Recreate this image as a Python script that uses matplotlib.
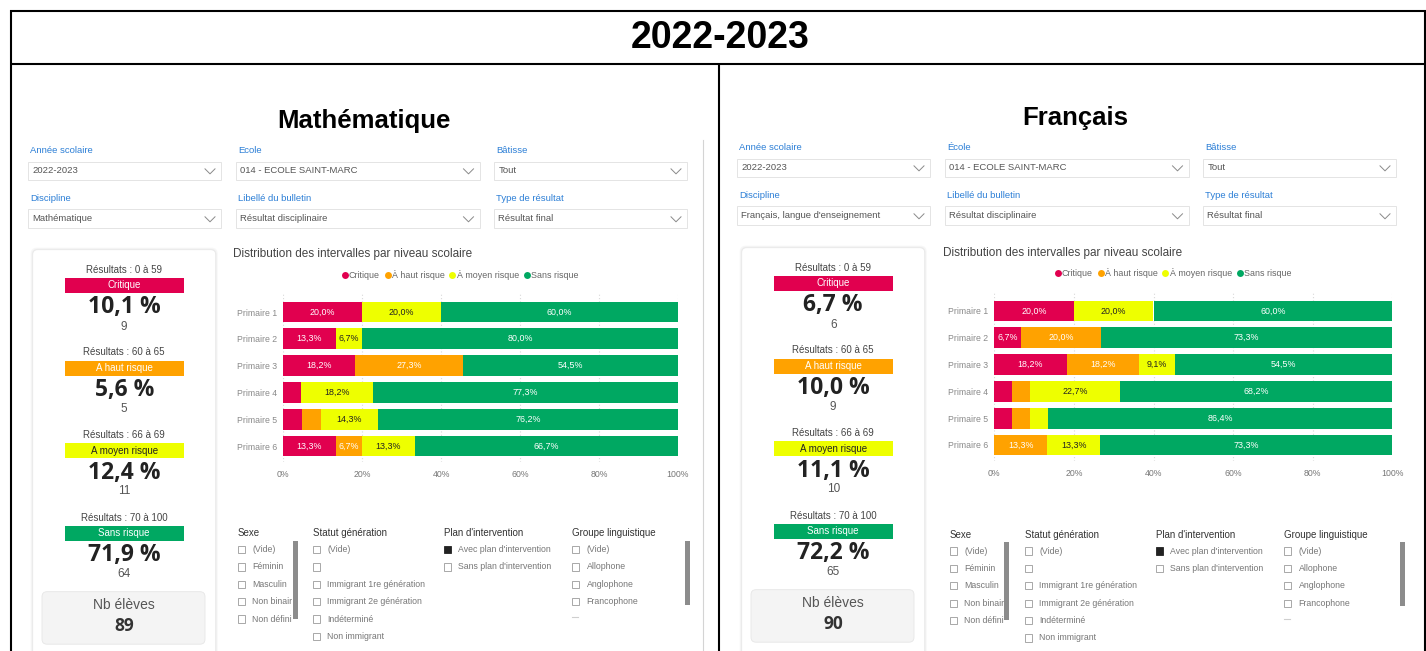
import matplotlib
matplotlib.use("Agg")
import matplotlib.pyplot as plt
from matplotlib.patches import Rectangle, FancyBboxPatch
from matplotlib.lines import Line2D

W, H, DPI = 1426, 651, 100

# ---------------- data ----------------
year_title = "2022-2023"
subjects = ["Mathématique", "Français"]
levels = ["Primaire 1", "Primaire 2", "Primaire 3", "Primaire 4", "Primaire 5", "Primaire 6"]
categories = ["Critique", "À haut risque", "À moyen risque", "Sans risque"]
card_labels = ["Critique", "A haut risque", "A moyen risque", "Sans risque"]
result_ranges = ["0 à 59", "60 à 65", "66 à 69", "70 à 100"]
x_ticks = [0, 20, 40, 60, 80, 100]
colors = ["#E1004F", "#FFA200", "#EEFF00", "#00A862"]
label_colors = ["white", "white", "#222222", "white"]

math_critique = [20.0, 13.3, 18.2, 4.5, 4.8, 13.3]
math_haut = [0.0, 0.0, 27.3, 0.0, 4.8, 6.7]
math_moyen = [20.0, 6.7, 0.0, 18.2, 14.3, 13.3]
math_sans = [60.0, 80.0, 54.5, 77.3, 76.2, 66.7]

fr_critique = [20.0, 6.7, 18.2, 4.5, 4.5, 0.0]
fr_haut = [0.0, 20.0, 18.2, 4.5, 4.5, 13.3]
fr_moyen = [20.0, 0.0, 9.1, 22.7, 4.5, 13.3]
fr_sans = [60.0, 73.3, 54.5, 68.2, 86.4, 73.3]

math_summary_pct = [10.1, 5.6, 12.4, 71.9]
math_summary_n = [9, 5, 11, 64]
math_total = 89
fr_summary_pct = [6.7, 10.0, 11.1, 72.2]
fr_summary_n = [6, 9, 10, 65]
fr_total = 90

math_filter_labels = [["Année scolaire", "Ecole", "Bâtisse"],
                      ["Discipline", "Libellé du bulletin", "Type de résultat"]]
fr_filter_labels = [["Année scolaire", "École", "Bâtisse"],
                    ["Discipline", "Libellé du bulletin", "Type de résultat"]]
math_filter_values = [["2022-2023", "014 - ECOLE SAINT-MARC", "Tout"],
                      ["Mathématique", "Résultat disciplinaire", "Résultat final"]]
fr_filter_values = [["2022-2023", "014 - ECOLE SAINT-MARC", "Tout"],
                    ["Français, langue d'enseignement", "Résultat disciplinaire", "Résultat final"]]

chart_title = "Distribution des intervalles par niveau scolaire"
slicer_titles = ["Sexe", "Statut génération", "Plan d'intervention", "Groupe linguistique"]
sexe_items = ["(Vide)", "Féminin", "Masculin", "Non binair", "Non défini"]
statut_items = ["(Vide)", "", "Immigrant 1re génération", "Immigrant 2e génération",
                "Indéterminé", "Non immigrant"]
plan_items = ["Avec plan d'intervention", "Sans plan d'intervention"]
plan_selected = [True, False]
groupe_items = ["(Vide)", "Allophone", "Anglophone", "Francophone"]

# ---------------- figure ----------------
plt.rcParams['font.family'] = ['Liberation Sans', 'DejaVu Sans']
fig = plt.figure(figsize=(W / DPI, H / DPI), dpi=DPI)
fig.patch.set_facecolor("white")
bg = fig.add_axes([0, 0, 1, 1])
bg.set_xlim(0, W)
bg.set_ylim(H, 0)
bg.axis("off")

BIG = ['Open Sans', 'DejaVu Sans']


def fmt(v):
    return f"{v:.1f}".replace(".", ",")


# outer table frame
frame_kw = dict(color="black", lw=1.5, solid_capstyle="butt")
bg.plot([10, 1426], [10.5, 10.5], **frame_kw)
bg.plot([10.5, 10.5], [10, 651], **frame_kw)
bg.plot([1424.5, 1424.5], [10, 651], **frame_kw)
bg.plot([10, 1426], [64, 64], **frame_kw)
bg.plot([719, 719], [64, 651], **frame_kw)
bg.text(720, 38, year_title, ha="center", va="center", fontsize=27, fontweight="bold", color="black")
bg.text(364, 121, subjects[0], ha="center", va="center", fontsize=18.5, fontweight="bold", color="black")
bg.text(1075, 118, subjects[1], ha="center", va="center", fontsize=18.5, fontweight="bold", color="black")
# thin edge of the left screenshot
bg.plot([702.5, 702.5], [140, 651], color="#d4d4d4", lw=0.8)


def draw_filters(ox, oy, labels, values):
    label_y = [150.7, 198.3]
    box_y = [(161.7, 180.0), (209.3, 228.3)]
    cols = [(28, 221), (236, 479.5), (494.4, 687)]
    for r in range(2):
        for c, (x0, x1) in enumerate(cols):
            x0o, x1o = x0 + ox, x1 + ox
            bg.text(x0o + 2, label_y[r] + oy, labels[r][c], ha="left", va="center",
                    fontsize=6.8, color="#2C7FD6")
            y0, y1 = box_y[r][0] + oy, box_y[r][1] + oy
            bg.add_patch(Rectangle((x0o, y0), x1o - x0o, y1 - y0, fc="white",
                                   ec="#e4e4e4", lw=0.7))
            yc = (y0 + y1) / 2
            bg.text(x0o + 4, yc, values[r][c], ha="left", va="center",
                    fontsize=6.8, color="#555555")
            bg.plot([x1o - 16, x1o - 11, x1o - 6], [yc - 2, yc + 3, yc - 2],
                    color="#8a8a8a", lw=0.7)


def draw_card(ox, oy, pcts, counts, total):
    x0, x1, y0, y1 = 32.7 + ox, 215.7 + ox, 249.7 + oy, 660
    for k, col in enumerate(["#f7f7f7", "#f0f0f0"]):
        bg.add_patch(FancyBboxPatch((x0 - 2 + k, y0 - 2 + k), x1 - x0 + 4 - 2 * k,
                                    y1 - y0, boxstyle="round,pad=0,rounding_size=6",
                                    fc=col, ec="none"))
    bg.add_patch(FancyBboxPatch((x0, y0), x1 - x0, y1 - y0,
                                boxstyle="round,pad=0,rounding_size=5",
                                fc="white", ec="#e8e8e8", lw=0.6))
    cx = (x0 + x1) / 2
    tops = [270.0, 352.3, 435.0, 517.7]
    for i in range(4):
        t = tops[i] + oy
        bg.text(cx, t, "Résultats : " + result_ranges[i], ha="center", va="center",
                fontsize=7, color="#444444")
        bg.add_patch(Rectangle((65 + ox, t + 8.3), 119, 15, fc=colors[i], ec="none"))
        bg.text(cx, t + 15.5, card_labels[i], ha="center", va="center", fontsize=7,
                color=label_colors[i])
        bg.text(cx, t + 37.5, fmt(pcts[i]) + " %", ha="center", va="center",
                fontsize=16.5, fontweight="bold", family=BIG, color="#222222")
        bg.text(cx, t + 56.5, str(counts[i]), ha="center", va="center",
                fontsize=8.5, color="#555555")
    bg.add_patch(FancyBboxPatch((42 + ox, 591.7 + oy), 163, 52.5,
                                boxstyle="round,pad=0,rounding_size=5",
                                fc="#f4f4f4", ec="#e6e6e6", lw=0.6))
    bg.text(cx, 605 + oy, "Nb élèves", ha="center", va="center", fontsize=10,
            color="#555555")
    bg.text(cx, 626 + oy, str(total), ha="center", va="center", fontsize=12.5,
            fontweight="bold", family=BIG, color="#333333")


def draw_chart(rect, row0, spacing, series, title_xy, legend_xy):
    x0, x1, top, bottom = rect
    ax = fig.add_axes([x0 / W, 1 - bottom / H, (x1 - x0) / W, (bottom - top) / H])
    ax.set_facecolor("none")
    ypos = list(range(len(levels)))
    left = [0.0] * len(levels)
    for i, vals in enumerate(series):
        ax.barh(ypos, vals, left=left, height=0.77, color=colors[i], edgecolor="none",
                zorder=2, label=categories[i])
        for j, v in enumerate(vals):
            if v >= 6:
                ax.text(left[j] + v / 2, ypos[j], fmt(v) + "%", ha="center",
                        va="center", fontsize=6.4, color=label_colors[i], zorder=3)
        left = [a + b for a, b in zip(left, vals)]
    ax.set_xlim(0, 100)
    ax.set_ylim((bottom - row0) / spacing, -(row0 - top) / spacing)
    ax.set_yticks(ypos)
    ax.set_yticklabels(levels, fontsize=6.3, color="#8a8a8a")
    ax.set_xticks(x_ticks)
    ax.set_xticklabels([f"{t}%" for t in x_ticks], fontsize=6.3, color="#777777")
    ax.tick_params(axis="both", length=0)
    ax.tick_params(axis="y", pad=4.3)
    ax.tick_params(axis="x", pad=6)
    for s in ax.spines.values():
        s.set_visible(False)
    for t in x_ticks:
        ax.axvline(t, color="#d9d9d9", lw=0.8, ls=(0, (1, 2)), zorder=1)
    bg.text(title_xy[0], title_xy[1], chart_title, ha="left", va="center",
            fontsize=8.5, color="#444444")
    handles = [Line2D([], [], ls="none", marker="o", markersize=5,
                      markerfacecolor=colors[i], markeredgecolor="none")
               for i in range(4)]
    ax.legend(handles, categories, loc="center", ncol=4, frameon=False,
              bbox_to_anchor=(legend_xy[0] / W, 1 - legend_xy[1] / H),
              bbox_transform=fig.transFigure, fontsize=6.4, labelcolor="#666666",
              handlelength=0.7, handletextpad=0.15, columnspacing=0.5,
              borderpad=0, borderaxespad=0)
    return ax


def draw_slicers(ox, oy, sb1, sb2):
    head_y = 533 + oy
    xs = [237.7, 312.7, 444, 572]
    lists = [sexe_items, statut_items, plan_items, groupe_items]
    for k in range(4):
        bg.text(xs[k] + ox, head_y, slicer_titles[k], ha="left", va="center",
                fontsize=7, color="#333333")
        for j, item in enumerate(lists[k]):
            y = 549.5 + oy + j * 17.4
            filled = (k == 2 and plan_selected[j])
            bg.add_patch(Rectangle((xs[k] + ox, y - 3.7), 7.4, 7.4,
                                   fc="#222222" if filled else "white",
                                   ec="#222222" if filled else "#9a9a9a", lw=0.6))
            bg.text(xs[k] + ox + 14.5, y, item, ha="left", va="center",
                    fontsize=6.3, color="#777777")
    # partially hidden next item in Groupe linguistique list
    bg.plot([572 + ox, 578 + ox], [617 + oy, 617 + oy], color="#cfcfcf", lw=0.8)
    bg.add_patch(Rectangle((sb1, 540.7 + oy), 5, 78, fc="#8c8c8c", ec="none"))
    bg.add_patch(Rectangle((sb2, 540.5 + oy), 5, 64, fc="#8c8c8c", ec="none"))


# ---------------- left: Mathématique ----------------
draw_filters(0, 0, math_filter_labels, math_filter_values)
draw_card(0, 0, math_summary_pct, math_summary_n, math_total)
draw_chart((283.3, 677.7, 292, 462), 312, 26.8,
           [math_critique, math_haut, math_moyen, math_sans],
           (232.7, 254.3), (460, 274.7))
draw_slicers(0, 0, 292.7, 685)

# ---------------- right: Français ----------------
draw_filters(709, -3, fr_filter_labels, fr_filter_values)
draw_card(709, -2, fr_summary_pct, fr_summary_n, fr_total)
draw_chart((994.3, 1392.3, 291, 461), 311, 26.8,
           [fr_critique, fr_haut, fr_moyen, fr_sans],
           (942.7, 252.7), (1173, 273.3))
draw_slicers(712, 1.5, 1004, 1400)

fig.savefig("out.png", dpi=DPI, facecolor="white")
